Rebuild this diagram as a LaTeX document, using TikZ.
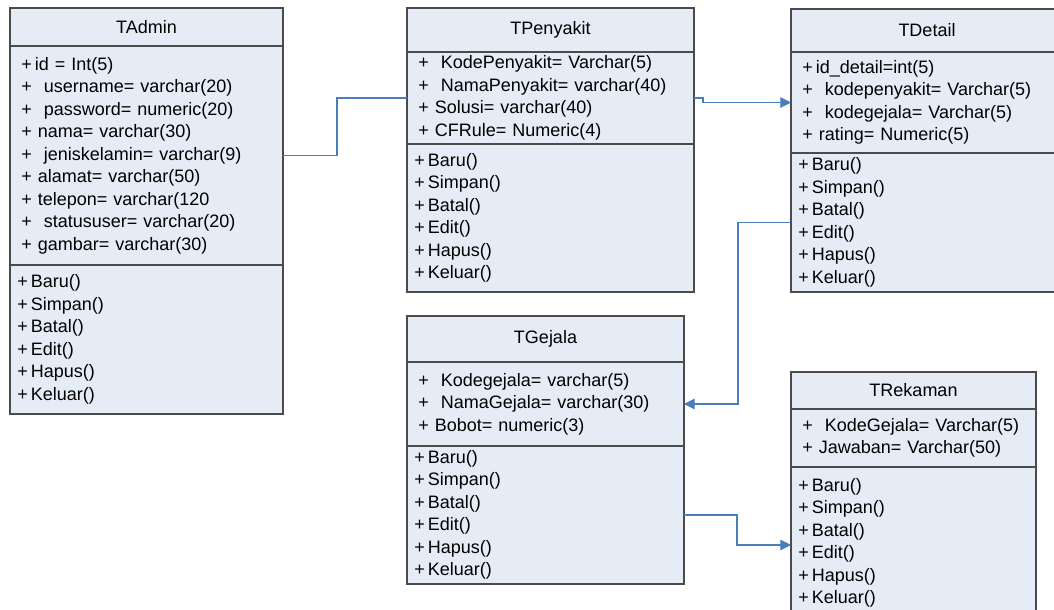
\documentclass[tikz,border=0pt]{standalone}
\usepackage{fontspec}
\setmainfont{Liberation Sans}
\usetikzlibrary{positioning, arrows.meta}

\definecolor{boxfill}{RGB}{230,236,246}
\definecolor{boxline}{RGB}{75,75,75}
\definecolor{linkblue}{RGB}{74,126,187}

\begin{document}
\begin{tikzpicture}[
  x=0.75pt, y=-0.75pt,
  cls/.style={draw=boxline, fill=boxfill, line width=0.9pt, outer sep=0pt, inner ysep=0pt, font=\fontsize{13.5}{16.9}\selectfont},
  title/.style={cls, align=center, anchor=north west},
  attrs/.style={cls, align=left, inner xsep=8.5pt},
  meths/.style={cls, align=left, inner xsep=5.5pt},
  link/.style={draw=linkblue, line width=0.8pt},
  arrow/.style={link, -{Triangle[length=8pt, width=8pt]}}
]
\useasboundingbox (0,0) rectangle (1054,610);

% TAdmin
\node[title, minimum width=204.75pt, minimum height=28.5pt] (adm-t) at (10,8) {TAdmin};
\node[attrs, text width=187.75pt, minimum height=164.25pt, below=0pt of adm-t] (adm-a) {%
  +\,id = Int(5)\\
  +~~username= varchar(20)\\
  +~~password= numeric(20)\\
  + nama= varchar(30)\\
  +~~jeniskelamin= varchar(9)\\
  + alamat= varchar(50)\\
  + telepon= varchar(120\\
  +~~statususer= varchar(20)\\
  + gambar= varchar(30)};
\node[meths, text width=193.75pt, minimum height=111.75pt, below=0pt of adm-a] (adm-m) {%
  +\,Baru()\\ +\,Simpan()\\ +\,Batal()\\ +\,Edit()\\ +\,Hapus()\\ +\,Keluar()};

% TPenyakit
\node[title, minimum width=215.25pt, minimum height=33pt] (pen-t) at (407,8) {TPenyakit};
\node[attrs, text width=198.25pt, minimum height=69pt, below=0pt of pen-t] (pen-a) {%
  +~~KodePenyakit= Varchar(5)\\
  +~~NamaPenyakit= varchar(40)\\
  + Solusi= varchar(40)\\
  + CFRule= Numeric(4)};
\node[meths, text width=204.25pt, minimum height=111pt, below=0pt of pen-a] (pen-m) {%
  +\,Baru()\\ +\,Simpan()\\ +\,Batal()\\ +\,Edit()\\ +\,Hapus()\\ +\,Keluar()};

% TDetail
\node[title, minimum width=204pt, minimum height=32.25pt] (det-t) at (791,9) {TDetail};
\node[attrs, text width=187pt, minimum height=75.75pt, below=0pt of det-t] (det-a) {%
  +\,id\_detail=int(5)\\
  +~~kodepenyakit= Varchar(5)\\
  +~~kodegejala= Varchar(5)\\
  + rating= Numeric(5)};
\node[meths, text width=193pt, minimum height=104.25pt, below=0pt of det-a] (det-m) {%
  +\,Baru()\\ +\,Simpan()\\ +\,Batal()\\ +\,Edit()\\ +\,Hapus()\\ +\,Keluar()};

% TGejala
\node[title, minimum width=207.75pt, minimum height=34.5pt] (gej-t) at (407,316) {TGejala};
\node[attrs, text width=190.75pt, minimum height=63pt, below=0pt of gej-t] (gej-a) {%
  +~~Kodegejala= varchar(5)\\
  +~~NamaGejala= varchar(30)\\
  + Bobot= numeric(3)};
\node[meths, text width=196.75pt, minimum height=103.5pt, below=0pt of gej-a] (gej-m) {%
  +\,Baru()\\ +\,Simpan()\\ +\,Batal()\\ +\,Edit()\\ +\,Hapus()\\ +\,Keluar()};

% TRekaman
\node[title, minimum width=183.75pt, minimum height=27.75pt] (rek-t) at (791,372) {TRekaman};
\node[attrs, text width=166.75pt, minimum height=43.5pt, below=0pt of rek-t] (rek-a) {%
  +~~KodeGejala= Varchar(5)\\
  + Jawaban= Varchar(50)};
\node[meths, text width=172.75pt, minimum height=114pt, below=0pt of rek-a] (rek-m) {%
  +\,Baru()\\ +\,Simpan()\\ +\,Batal()\\ +\,Edit()\\ +\,Hapus()\\ +\,Keluar()};

% Relations
\draw[link] (adm-a.east) -- ++(54,0) |- (pen-a.west);
\draw[arrow] (pen-a.east) -- ++(9,0) |- (det-a.west);
\draw[arrow] (det-m.west) -- ++(-53,0) |- (gej-a.east);
\draw[arrow] (gej-m.east) -- ++(53,0) |- ([yshift=-1.5pt]rek-m.west);

\end{tikzpicture}
\end{document}
